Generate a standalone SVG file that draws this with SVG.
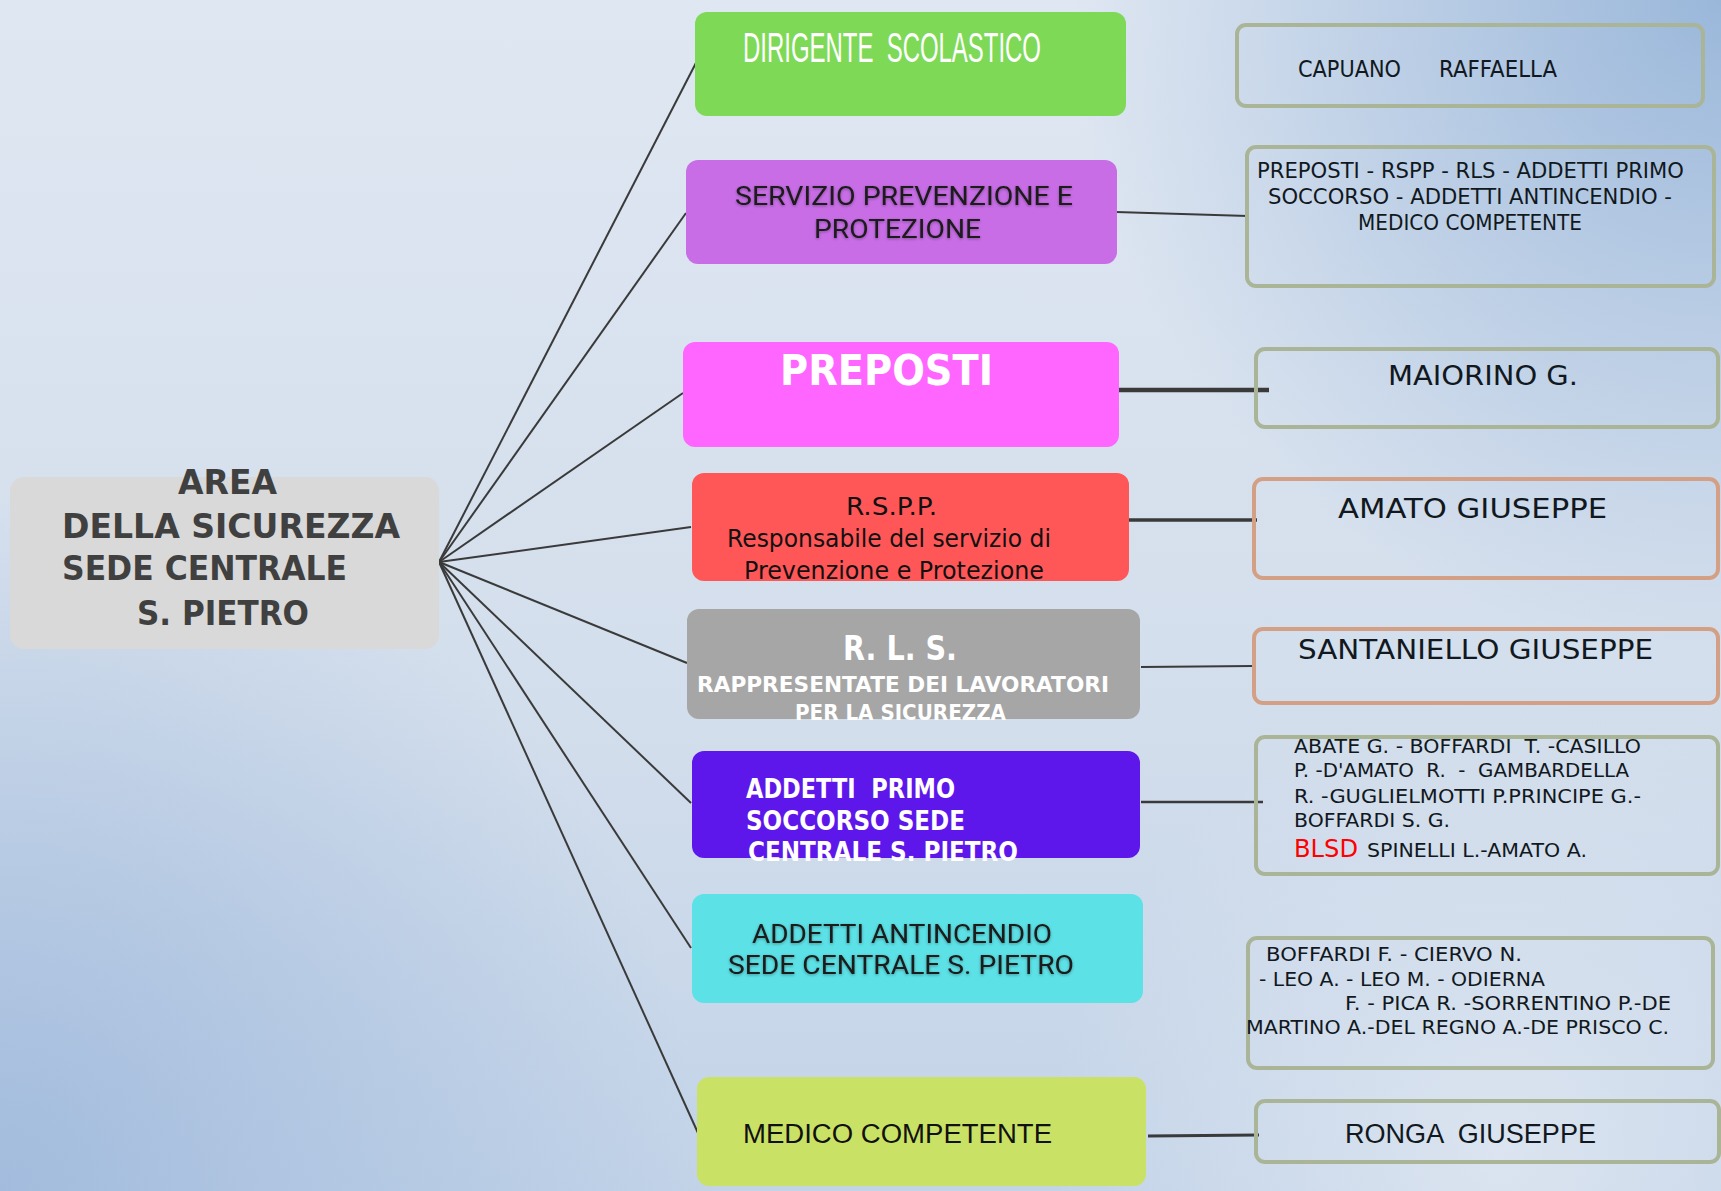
<svg xmlns="http://www.w3.org/2000/svg" width="1721" height="1191" viewBox="0 0 1721 1191">
<defs>
<linearGradient id="bgBase" x1="0" y1="0" x2="0" y2="1">
<stop offset="0" stop-color="#dfe7f2"/>
<stop offset="0.6" stop-color="#d3deec"/>
<stop offset="1" stop-color="#c2d3e8"/>
</linearGradient>
<radialGradient id="bl" cx="0" cy="1191" r="700" gradientUnits="userSpaceOnUse">
<stop offset="0" stop-color="#a3bcdd" stop-opacity="1"/>
<stop offset="1" stop-color="#a3bcdd" stop-opacity="0"/>
</radialGradient>
<radialGradient id="tr" cx="1721" cy="0" r="650" gradientUnits="userSpaceOnUse">
<stop offset="0" stop-color="#9ab7da" stop-opacity="1"/>
<stop offset="1" stop-color="#9ab7da" stop-opacity="0"/>
</radialGradient>
<radialGradient id="br" cx="1500" cy="1150" r="450" gradientUnits="userSpaceOnUse">
<stop offset="0" stop-color="#dbe4f0" stop-opacity="1"/>
<stop offset="1" stop-color="#dbe4f0" stop-opacity="0"/>
</radialGradient>
<filter id="sh" x="-10%" y="-30%" width="120%" height="160%">
<feGaussianBlur in="SourceAlpha" stdDeviation="1.5"/>
<feOffset dx="0" dy="1" result="b"/>
<feFlood flood-color="#000" flood-opacity="0.35"/>
<feComposite in2="b" operator="in"/>
<feMerge><feMergeNode/><feMergeNode in="SourceGraphic"/></feMerge>
</filter>
</defs>
<style>
.t{font-family:"DejaVu Sans","Liberation Sans",sans-serif;}
.n{font-family:"Liberation Sans","DejaVu Sans",sans-serif;}
.r{font-family:Roboto,"Noto Sans",sans-serif;}
.b{font-weight:bold;}
.w{fill:#ffffff;}
.k{fill:#111820;}
.box{stroke-width:4;fill:none;}
.g{stroke:#aab497;}
.s{stroke:#d3a085;}
.c{stroke:#3a3a3a;fill:none;stroke-linecap:butt;}
text{white-space:pre;}
</style>
<rect x="0" y="0" width="1721" height="1191" fill="url(#bgBase)"/>
<rect x="0" y="0" width="1721" height="1191" fill="url(#bl)"/>
<rect x="0" y="0" width="1721" height="1191" fill="url(#tr)"/>
<rect x="0" y="0" width="1721" height="1191" fill="url(#br)"/>

<g id="connectors">
<line class="c" stroke-width="2" x1="439" y1="562" x2="699" y2="57"/>
<line class="c" stroke-width="2" x1="439" y1="562" x2="686" y2="213"/>
<line class="c" stroke-width="2" x1="439" y1="562" x2="683" y2="393"/>
<line class="c" stroke-width="2" x1="439" y1="562" x2="691" y2="527"/>
<line class="c" stroke-width="2" x1="439" y1="562" x2="687" y2="663"/>
<line class="c" stroke-width="2" x1="439" y1="562" x2="691" y2="803"/>
<line class="c" stroke-width="2" x1="439" y1="562" x2="691" y2="948"/>
<line class="c" stroke-width="2" x1="439" y1="562" x2="698" y2="1133"/>
<line class="c" stroke-width="1.8" x1="1116" y1="212" x2="1248" y2="216"/>
<line class="c" stroke-width="4.5" x1="1115" y1="390" x2="1269" y2="390"/>
<line class="c" stroke-width="3.5" x1="1128" y1="520" x2="1257" y2="520"/>
<line class="c" stroke-width="2" x1="1141" y1="667" x2="1253" y2="666"/>
<line class="c" stroke-width="2.5" x1="1141" y1="802" x2="1263" y2="802"/>
<line class="c" stroke-width="3" x1="1148" y1="1136" x2="1259" y2="1135"/>
</g>

<g id="area">
<rect x="10" y="477" width="429" height="172" rx="14" fill="#d9d9d9"/>
<text class="t b" font-size="33" fill="#404040" x="178" y="494" textLength="99" lengthAdjust="spacingAndGlyphs">AREA</text>
<text class="t b" font-size="33" fill="#404040" x="62" y="538" textLength="338" lengthAdjust="spacingAndGlyphs">DELLA SICUREZZA</text>
<text class="t b" font-size="33" fill="#404040" x="62" y="580" textLength="285" lengthAdjust="spacingAndGlyphs">SEDE CENTRALE</text>
<text class="t b" font-size="33" fill="#404040" x="137" y="625" textLength="172" lengthAdjust="spacingAndGlyphs">S. PIETRO</text>
</g>

<g id="dirigente">
<rect x="695" y="12" width="431" height="104" rx="12" fill="#7ed957"/>
<text class="n w" font-size="42" x="743" y="62" textLength="298" lengthAdjust="spacingAndGlyphs">DIRIGENTE  SCOLASTICO</text>
</g>

<g id="servizio">
<rect x="686" y="160" width="431" height="104" rx="12" fill="#c86de6"/>
<g filter="url(#sh)">
<text class="r" font-size="25" fill="#1a1a1a" x="735" y="205" textLength="338" lengthAdjust="spacingAndGlyphs">SERVIZIO PREVENZIONE E</text>
<text class="r" font-size="25" fill="#1a1a1a" x="814" y="238" textLength="167" lengthAdjust="spacingAndGlyphs">PROTEZIONE</text>
</g>
</g>

<g id="preposti">
<rect x="683" y="342" width="436" height="105" rx="12" fill="#ff66ff"/>
<text class="t b w" font-size="42" x="780" y="385" textLength="213" lengthAdjust="spacingAndGlyphs">PREPOSTI</text>
</g>

<g id="rspp">
<rect x="692" y="473" width="437" height="108" rx="12" fill="#ff5757"/>
<text class="t" font-size="24" fill="#111" x="846" y="515" textLength="91" lengthAdjust="spacingAndGlyphs">R.S.P.P.</text>
<text class="t" font-size="24" fill="#111" x="727" y="547" textLength="324" lengthAdjust="spacingAndGlyphs">Responsabile del servizio di</text>
<text class="t" font-size="24" fill="#111" x="744" y="579" textLength="300" lengthAdjust="spacingAndGlyphs">Prevenzione e Protezione</text>
</g>

<g id="rls">
<rect x="687" y="609" width="453" height="110" rx="12" fill="#a6a6a6"/>
<text class="t b w" font-size="34" x="843" y="660" textLength="114" lengthAdjust="spacingAndGlyphs">R. L. S.</text>
<text class="t b w" font-size="21" x="697" y="692" textLength="412" lengthAdjust="spacingAndGlyphs">RAPPRESENTATE DEI LAVORATORI</text>
<text class="t b w" font-size="21" x="795" y="720" textLength="211" lengthAdjust="spacingAndGlyphs">PER LA SICUREZZA</text>
</g>

<g id="primo-soccorso">
<rect x="692" y="751" width="448" height="107" rx="12" fill="#5e17eb"/>
<text class="t b w" font-size="26" x="746" y="798" textLength="209" lengthAdjust="spacingAndGlyphs">ADDETTI  PRIMO</text>
<text class="t b w" font-size="26" x="746" y="830" textLength="219" lengthAdjust="spacingAndGlyphs">SOCCORSO SEDE</text>
<text class="t b w" font-size="26" x="748" y="861" textLength="270" lengthAdjust="spacingAndGlyphs">CENTRALE S. PIETRO</text>
</g>

<g id="antincendio">
<rect x="692" y="894" width="451" height="109" rx="12" fill="#5ce1e6"/>
<g filter="url(#sh)">
<text class="r" font-size="26" fill="#1a1a1a" x="752" y="943" textLength="300" lengthAdjust="spacingAndGlyphs">ADDETTI ANTINCENDIO</text>
<text class="r" font-size="26" fill="#1a1a1a" x="728" y="974" textLength="346" lengthAdjust="spacingAndGlyphs">SEDE CENTRALE S. PIETRO</text>
</g>
</g>

<g id="medico">
<rect x="697" y="1077" width="449" height="109" rx="12" fill="#c9e265"/>
<text class="n" font-size="27" fill="#111" x="743" y="1143" textLength="309" lengthAdjust="spacingAndGlyphs">MEDICO COMPETENTE</text>
</g>

<g id="capuano">
<rect class="box g" x="1237" y="25" width="466" height="81" rx="9"/>
<text class="t k" font-size="23" x="1298" y="77" textLength="103" lengthAdjust="spacingAndGlyphs">CAPUANO</text>
<text class="t k" font-size="23" x="1439" y="77" textLength="118" lengthAdjust="spacingAndGlyphs">RAFFAELLA</text>
</g>

<g id="spp-membri">
<rect class="box g" x="1247" y="147" width="467" height="139" rx="9"/>
<text class="t k" font-size="21" x="1257" y="178" textLength="427" lengthAdjust="spacingAndGlyphs">PREPOSTI - RSPP - RLS - ADDETTI PRIMO</text>
<text class="t k" font-size="21" x="1268" y="204" textLength="404" lengthAdjust="spacingAndGlyphs">SOCCORSO - ADDETTI ANTINCENDIO -</text>
<text class="t k" font-size="21" x="1358" y="230" textLength="224" lengthAdjust="spacingAndGlyphs">MEDICO COMPETENTE</text>
</g>

<g id="maiorino">
<rect class="box g" x="1256" y="349" width="462" height="78" rx="9"/>
<text class="t k" font-size="27" x="1388" y="385" textLength="190" lengthAdjust="spacingAndGlyphs">MAIORINO G.</text>
</g>

<g id="amato">
<rect class="box s" x="1254" y="479" width="464" height="99" rx="9"/>
<text class="t k" font-size="27" x="1338" y="518" textLength="269" lengthAdjust="spacingAndGlyphs">AMATO GIUSEPPE</text>
</g>

<g id="santaniello">
<rect class="box s" x="1254" y="629" width="464" height="74" rx="9"/>
<text class="t k" font-size="27" x="1298" y="659" textLength="355" lengthAdjust="spacingAndGlyphs">SANTANIELLO GIUSEPPE</text>
</g>

<g id="primo-soccorso-membri">
<rect class="box g" x="1256" y="737" width="462" height="137" rx="9"/>
<text class="t k" font-size="19.5" x="1294" y="753" textLength="347" lengthAdjust="spacingAndGlyphs">ABATE G. - BOFFARDI  T. -CASILLO</text>
<text class="t k" font-size="19.5" x="1294" y="777" textLength="335" lengthAdjust="spacingAndGlyphs">P. -D'AMATO  R.  -  GAMBARDELLA</text>
<text class="t k" font-size="19.5" x="1294" y="803" textLength="347" lengthAdjust="spacingAndGlyphs">R. -GUGLIELMOTTI P.PRINCIPE G.-</text>
<text class="t k" font-size="19.5" x="1294" y="827" textLength="156" lengthAdjust="spacingAndGlyphs">BOFFARDI S. G.</text>
<text class="t" font-size="24" fill="#ff0000" x="1294" y="857" textLength="64" lengthAdjust="spacingAndGlyphs">BLSD</text>
<text class="t k" font-size="19" x="1367" y="857" textLength="220" lengthAdjust="spacingAndGlyphs">SPINELLI L.-AMATO A.</text>
</g>

<g id="antincendio-membri">
<rect class="box g" x="1248" y="938" width="465" height="130" rx="9"/>
<text class="t k" font-size="20" x="1266" y="961" textLength="256" lengthAdjust="spacingAndGlyphs">BOFFARDI F. - CIERVO N.</text>
<text class="t k" font-size="20" x="1259" y="986" textLength="286" lengthAdjust="spacingAndGlyphs">- LEO A. - LEO M. - ODIERNA</text>
<text class="t k" font-size="20" x="1345" y="1010" textLength="326" lengthAdjust="spacingAndGlyphs">F. - PICA R. -SORRENTINO P.-DE</text>
<text class="t k" font-size="20" x="1246" y="1034" textLength="423" lengthAdjust="spacingAndGlyphs">MARTINO A.-DEL REGNO A.-DE PRISCO C.</text>
</g>

<g id="ronga">
<rect class="box g" x="1256" y="1101" width="463" height="61" rx="9"/>
<text class="n k" font-size="27" x="1345" y="1143" textLength="251" lengthAdjust="spacingAndGlyphs">RONGA  GIUSEPPE</text>
</g>
</svg>
